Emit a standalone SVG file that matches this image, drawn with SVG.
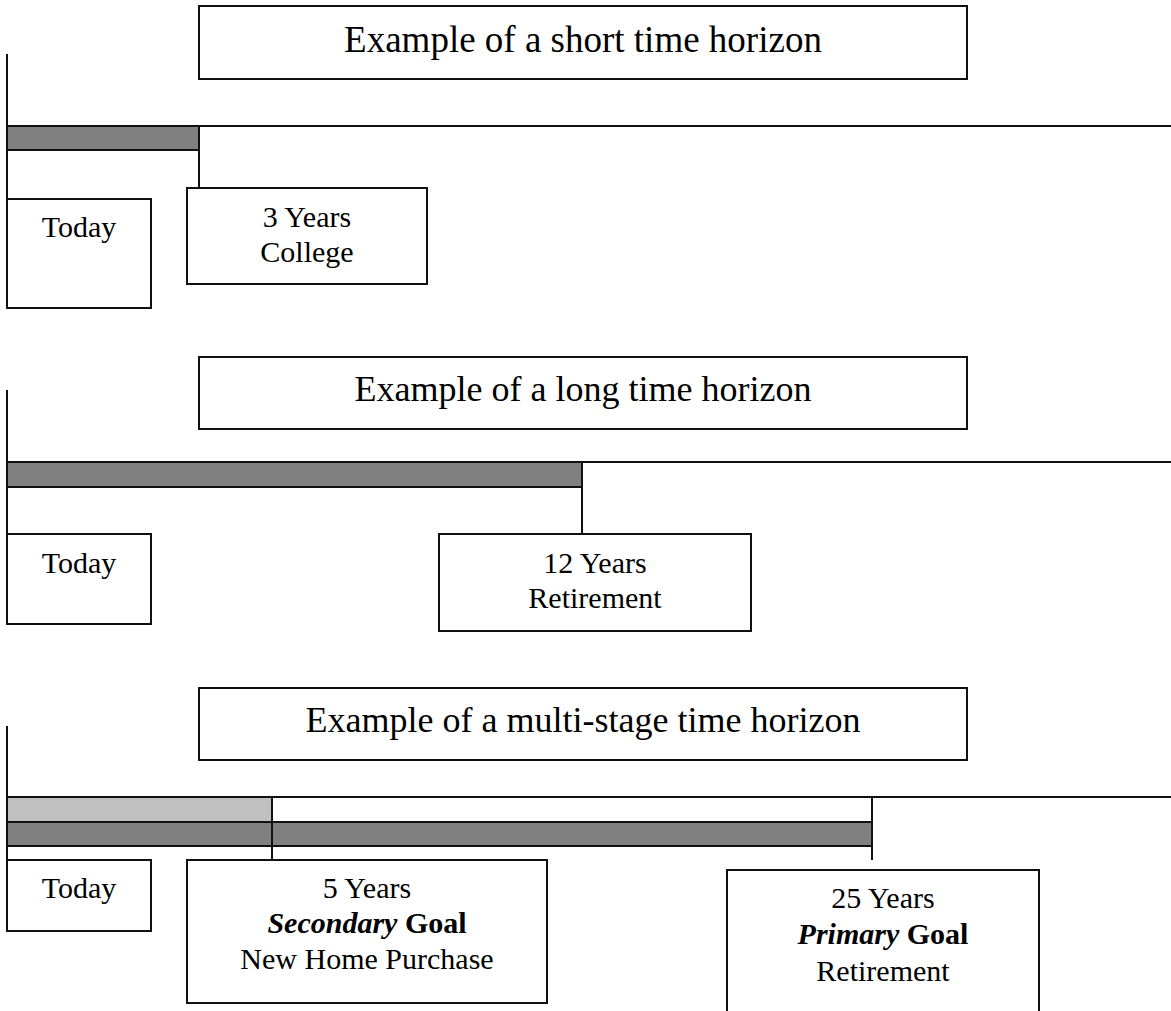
<svg xmlns="http://www.w3.org/2000/svg" width="1171" height="1011" viewBox="0 0 1171 1011">
  <style>
    .box { fill: #ffffff; stroke: #111111; stroke-width: 2; }
    .bar { fill: #808080; stroke: #111111; stroke-width: 2; }
    .bar-light { fill: #c0c0c0; stroke: #111111; stroke-width: 2; }
    .line { stroke: #111111; stroke-width: 2; fill: none; }
    .title { font-family: "Liberation Serif", "Times New Roman", serif; font-size: 36px; fill: #000; text-anchor: middle; }
    .lbl { font-family: "Liberation Serif", "Times New Roman", serif; font-size: 30px; fill: #000; text-anchor: middle; }
    .bi { font-weight: bold; font-style: italic; }
    .b { font-weight: bold; }
  </style>
  <rect x="0" y="0" width="1171" height="1011" fill="#ffffff"/>

  <g id="connectors">
    <!-- section 1 -->
    <line class="line" x1="7" y1="54" x2="7" y2="308"/>
    <line class="line" x1="7" y1="126" x2="1171" y2="126"/>
    <line class="line" x1="199" y1="150" x2="199" y2="188"/>
    <!-- section 2 -->
    <line class="line" x1="7" y1="390" x2="7" y2="624"/>
    <line class="line" x1="7" y1="462" x2="1171" y2="462"/>
    <line class="line" x1="582" y1="487" x2="582" y2="534"/>
    <!-- section 3 -->
    <line class="line" x1="7" y1="726" x2="7" y2="931"/>
    <line class="line" x1="7" y1="797" x2="1171" y2="797"/>
  </g>

  <!-- Section 1 -->
  <g id="title-short">
    <rect class="box" x="199" y="6" width="768" height="73"/>
    <text class="title" x="583" y="52" style="font-size:37px">Example of a short time horizon</text>
  </g>
  <g id="bar-short">
    <rect class="bar" x="7" y="126" width="192" height="24"/>
  </g>
  <g id="today-1">
    <rect class="box" x="7" y="199" width="144" height="109"/>
    <text class="lbl" x="79" y="237">Today</text>
  </g>
  <g id="college-3y">
    <rect class="box" x="187" y="188" width="240" height="96"/>
    <text class="lbl" x="307" y="227">3 Years</text>
    <text class="lbl" x="307" y="262">College</text>
  </g>

  <!-- Section 2 -->
  <g id="title-long">
    <rect class="box" x="199" y="357" width="768" height="72"/>
    <text class="title" x="583" y="401">Example of a long time horizon</text>
  </g>
  <g id="bar-long">
    <rect class="bar" x="7" y="462" width="575" height="25"/>
  </g>
  <g id="today-2">
    <rect class="box" x="7" y="534" width="144" height="90"/>
    <text class="lbl" x="79" y="573">Today</text>
  </g>
  <g id="retirement-12y">
    <rect class="box" x="439" y="534" width="312" height="97"/>
    <text class="lbl" x="595" y="573">12 Years</text>
    <text class="lbl" x="595" y="608">Retirement</text>
  </g>

  <!-- Section 3 -->
  <g id="title-multi">
    <rect class="box" x="199" y="688" width="768" height="72"/>
    <text class="title" x="583" y="732">Example of a multi-stage time horizon</text>
  </g>
  <g id="bar-secondary">
    <rect class="bar-light" x="7" y="797" width="265" height="25"/>
  </g>
  <g id="bar-primary">
    <rect class="bar" x="7" y="822" width="865" height="24"/>
  </g>
  <g id="ticks-multi">
    <line class="line" x1="272" y1="797" x2="272" y2="860"/>
    <line class="line" x1="872" y1="797" x2="872" y2="860"/>
  </g>
  <g id="today-3">
    <rect class="box" x="7" y="860" width="144" height="71"/>
    <text class="lbl" x="79" y="898">Today</text>
  </g>
  <g id="home-5y">
    <rect class="box" x="187" y="860" width="360" height="143"/>
    <text class="lbl" x="367" y="898">5 Years</text>
    <text class="lbl" x="367" y="933"><tspan class="bi">Secondary</tspan><tspan class="b"> Goal</tspan></text>
    <text class="lbl" x="367" y="969">New Home Purchase</text>
  </g>
  <g id="retirement-25y">
    <rect class="box" x="727" y="870" width="312" height="160"/>
    <text class="lbl" x="883" y="908">25 Years</text>
    <text class="lbl" x="883" y="944"><tspan class="bi">Primary</tspan><tspan class="b"> Goal</tspan></text>
    <text class="lbl" x="883" y="981">Retirement</text>
  </g>
</svg>
